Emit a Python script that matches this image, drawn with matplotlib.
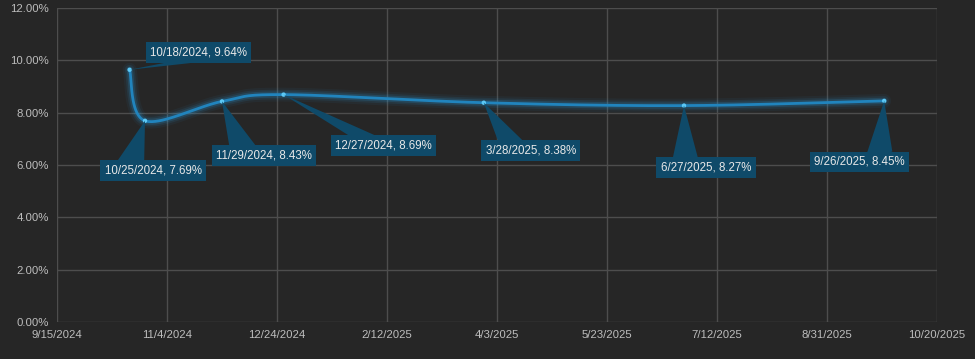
"""
Rate history chart, smoothed line with callout labels (dark theme).
"""

import numpy as np
import matplotlib
matplotlib.use("Agg")
import matplotlib.pyplot as plt
import matplotlib.dates as mdates
from matplotlib.patches import Polygon
from matplotlib.ticker import FuncFormatter, MultipleLocator
from datetime import date, timedelta

# data
dates = [date(2024, 10, 18), date(2024, 10, 25), date(2024, 11, 29), date(2024, 12, 27),
         date(2025, 3, 28), date(2025, 6, 27), date(2025, 9, 26)]
rates = [9.64, 7.69, 8.43, 8.69, 8.38, 8.27, 8.45]

# callout offsets in pixels (box centre relative to point)
label_offsets = [(69, 17), (8, -50), (42, -54), (100, -51), (47, -48), (22, -62), (-25, -61)]

x_start = date(2024, 9, 15)
x_end = date(2025, 10, 20)
tick_step = 50  # days

BG = "#262626"
GRID = "#4d4d4d"
LINE = "#2184bd"
BOX = "#0f4a69"
TICK_TXT = "#bdbdbd"

plt.rcParams['font.family'] = ['Liberation Sans', 'DejaVu Sans']

fig = plt.figure(figsize=(9.75, 3.59), dpi=100, facecolor=BG)
ax = fig.add_axes([57 / 975, 37 / 359, 880 / 975, 314 / 359])
ax.set_facecolor(BG)

xs = mdates.date2num(dates)
ax.set_xlim(mdates.date2num(x_start), mdates.date2num(x_end))
ax.set_ylim(0, 12)

ticks = [mdates.date2num(x_start + timedelta(days=tick_step * i)) for i in range(9)]
ax.set_xticks(ticks)


def fmt_date(v, pos):
    d = mdates.num2date(v)
    return f"{d.month}/{d.day}/{d.year}"


ax.xaxis.set_major_formatter(FuncFormatter(fmt_date))
ax.yaxis.set_major_locator(MultipleLocator(2))
ax.yaxis.set_major_formatter(FuncFormatter(lambda v, p: f"{v:.2f}%"))

ax.grid(True, color=GRID, linewidth=1.0)
ax.set_axisbelow(True)
for s in ax.spines.values():
    s.set_visible(False)
ax.tick_params(length=0, colors=TICK_TXT, labelsize=8.2, pad=6)

# callout boxes (wedges added after layout is known)
labels = []
for x, d, r, off in zip(xs, dates, rates, label_offsets):
    t = ax.annotate(f"{d.month}/{d.day}/{d.year}, {r:.2f}%", xy=(x, r), xytext=off,
                    textcoords='offset pixels', ha='center', va='center',
                    fontsize=8.3, color="#e8e8e8", zorder=7,
                    bbox=dict(boxstyle='square,pad=0.38', facecolor=BOX, edgecolor='none'))
    labels.append(t)

fig.canvas.draw()
renderer = fig.canvas.get_renderer()
inv = ax.transData.inverted()

# smoothed line (Excel-like bezier through the points, done in display space)
pts = ax.transData.transform(np.column_stack([xs, rates]))
n = len(pts)
curve = []
for i in range(n - 1):
    p0 = pts[i - 1] if i > 0 else pts[i]
    p1 = pts[i]
    p2 = pts[i + 1]
    p3 = pts[i + 2] if i + 2 < n else pts[i + 1]
    c1 = p1 + (p2 - p0) / 6
    c2 = p2 - (p3 - p1) / 6
    tt = np.linspace(0, 1, 40)[:, None]
    seg = (1 - tt) ** 3 * p1 + 3 * (1 - tt) ** 2 * tt * c1 + 3 * (1 - tt) * tt ** 2 * c2 + tt ** 3 * p2
    curve.append(seg if i == 0 else seg[1:])
curve = inv.transform(np.vstack(curve))

# glow
for w, a in [(10, 0.06), (7, 0.1), (4.5, 0.18)]:
    ax.plot(curve[:, 0], curve[:, 1], color="#2a9ad8", linewidth=w, alpha=a,
            solid_capstyle='round', zorder=3)
ax.plot(curve[:, 0], curve[:, 1], color=LINE, linewidth=2, zorder=4)
ax.scatter(xs, rates, s=10, color="#5cc8f5", zorder=5, edgecolors='none')

# wedge pointers, like a rectangular callout shape
for t, tip in zip(labels, pts):
    bb = t.get_bbox_patch().get_window_extent(renderer)
    cx, cy = (bb.x0 + bb.x1) / 2, (bb.y0 + bb.y1) / 2
    dx = (tip[0] - cx) / bb.width
    dy = (tip[1] - cy) / bb.height
    if abs(dy) >= abs(dx):
        yb = bb.y1 if dy > 0 else bb.y0
        f = (2 / 12, 5 / 12) if dx < 0 else (7 / 12, 10 / 12)
        base = [(bb.x0 + f[0] * bb.width, yb), (bb.x0 + f[1] * bb.width, yb)]
    else:
        xb = bb.x1 if dx > 0 else bb.x0
        f = (2 / 12, 5 / 12) if dy < 0 else (7 / 12, 10 / 12)
        base = [(xb, bb.y0 + f[0] * bb.height), (xb, bb.y0 + f[1] * bb.height)]
    tri = inv.transform(np.array([base[0], tip, base[1], (cx, cy)]))
    ax.add_patch(Polygon(tri, closed=True, facecolor=BOX, edgecolor='none', zorder=6))

plt.savefig("out.png", dpi=100, facecolor=BG)
plt.close()
